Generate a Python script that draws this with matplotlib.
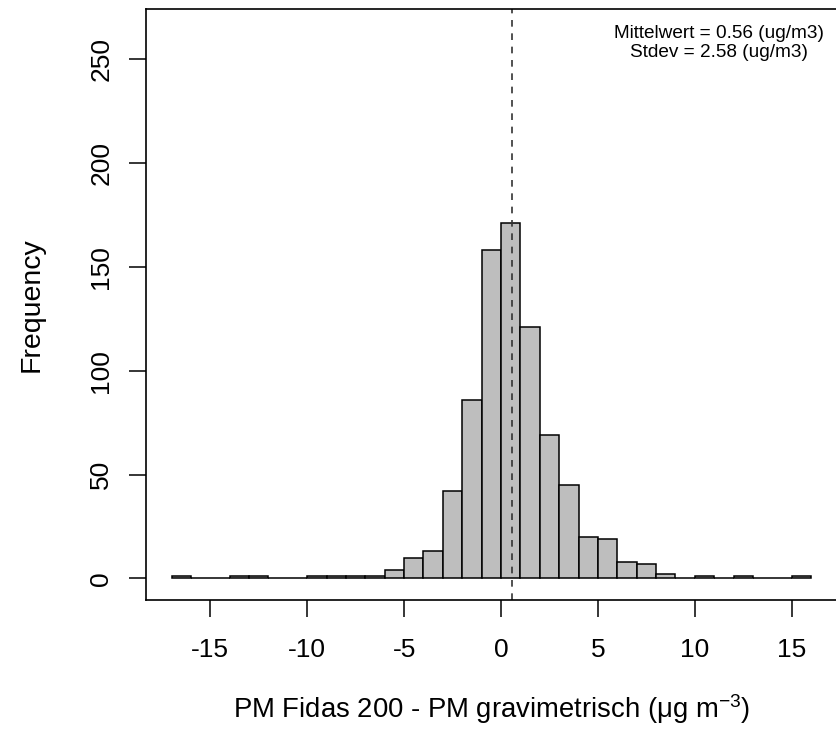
import matplotlib
matplotlib.use('Agg')

import matplotlib.pyplot as plt
import numpy as np

# Histogram of differences, 1 ug/m3 bins from -17 to 16
bin_edges = list(range(-17, 17))
counts = [1, 0, 0, 1, 1, 0, 0, 1, 1, 1, 1, 4, 10, 13, 42, 86, 158, 171,
          121, 69, 45, 20, 19, 8, 7, 2, 0, 1, 0, 1, 0, 0, 1]
mean_diff = 0.56
sd_diff = 2.58
x_ticks = [-15, -10, -5, 0, 5, 10, 15]
y_ticks = [0, 50, 100, 150, 200, 250]

plt.rcParams['font.family'] = ['Liberation Sans', 'DejaVu Sans']
plt.rcParams['mathtext.default'] = 'regular'

fig = plt.figure(figsize=(8.37, 7.31), dpi=100)
ax = fig.add_axes([0.1744, 0.1792, 0.8252, 0.8085])

edges = np.array(bin_edges, dtype=float)
ax.bar(edges[:-1], counts, width=np.diff(edges), align='edge',
       color='#BEBEBE', edgecolor='black', linewidth=1.1)

# mean difference
ax.axvline(mean_diff, color='#333333', linestyle=(0, (4, 4)), linewidth=1.2)

ax.set_xlim(-18.32, 17.32)
ax.set_ylim(-10.45, 274.3)
ax.set_xticks(x_ticks)
ax.set_yticks(y_ticks)
ax.set_xticklabels([str(t) for t in x_ticks])
ax.set_yticklabels([str(t) for t in y_ticks], rotation=90, va='center')

for s in ax.spines.values():
    s.set_linewidth(1.2)
ax.tick_params(axis='both', length=12, width=1.1, labelsize=19)
ax.tick_params(axis='x', pad=15)
ax.tick_params(axis='y', pad=11.5)

ax.set_xlabel(r'PM Fidas 200 - PM gravimetrisch (μg m$^{-3}$)', fontsize=19.8)
ax.set_ylabel('Frequency', fontsize=20.5)
ax.xaxis.set_label_coords(0.5, -0.1997)
ax.yaxis.set_label_coords(-0.165, 0.5)
ax.xaxis.label.set_va('baseline')
ax.yaxis.label.set_va('center')

ax.text(0.8296, 0.9504, f'Mittelwert = {mean_diff:.2f} (ug/m3)', transform=ax.transAxes,
        ha='center', va='baseline', fontsize=13.7)
ax.text(0.8296, 0.9193, f'Stdev = {sd_diff:.2f} (ug/m3)', transform=ax.transAxes,
        ha='center', va='baseline', fontsize=13.7)

fig.savefig('out.png', dpi=100, facecolor='white')
